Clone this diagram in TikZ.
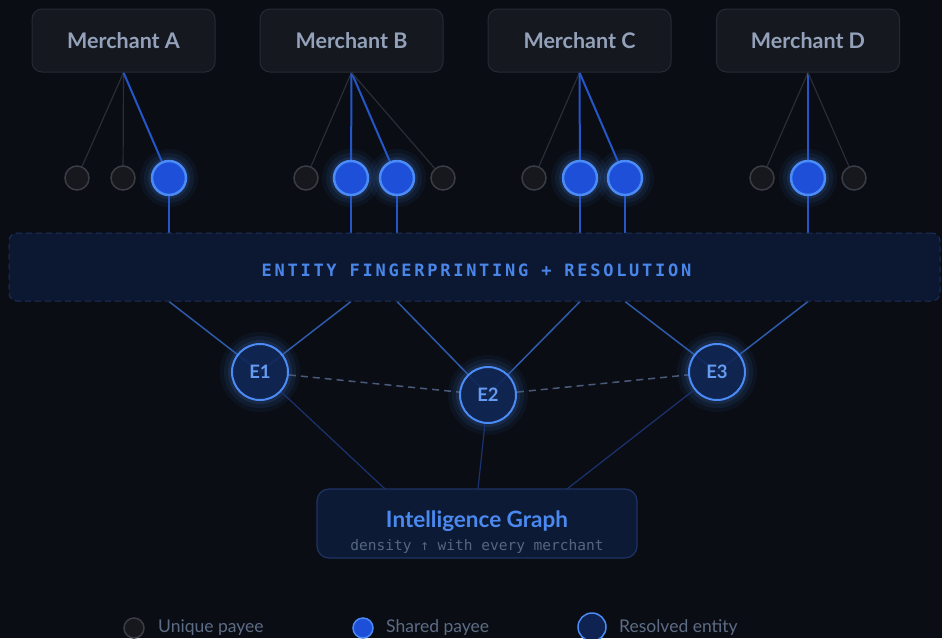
\documentclass[tikz,border=0pt]{standalone}
\usepackage{fontspec}
\setmainfont{Lato}
\newfontfamily\monof{DejaVu Sans Mono}
\newfontfamily\monospaced[LetterSpace=16]{DejaVu Sans Mono}
\usetikzlibrary{calc}
\pgfdeclarelayer{bg}
\pgfdeclarelayer{back}
\pgfsetlayers{back,bg,main}
\definecolor{bgc}{HTML}{0A0D14}
\definecolor{mfill}{HTML}{15181F}
\definecolor{mborder}{HTML}{272A33}
\definecolor{mtext}{HTML}{93A2BA}
\definecolor{ufill}{HTML}{16181E}
\definecolor{uborder}{HTML}{3A3D45}
\definecolor{sfill}{HTML}{1D4FD8}
\definecolor{sborder}{HTML}{4B8BF5}
\definecolor{sline}{HTML}{2456C8}
\definecolor{gline}{HTML}{2A2D35}
\definecolor{bandfill}{HTML}{0C1731}
\definecolor{bandborder}{HTML}{1D3059}
\definecolor{bandtext}{HTML}{4A86E8}
\definecolor{efill}{HTML}{0F2352}
\definecolor{eline}{HTML}{2D5AAA}
\definecolor{edash}{HTML}{4A5A7A}
\definecolor{iline}{HTML}{1A3270}
\definecolor{ifill}{HTML}{0D1A36}
\definecolor{iborder}{HTML}{1E3464}
\definecolor{ititle}{HTML}{4A8AF0}
\definecolor{isub}{HTML}{56667E}
\definecolor{legtext}{HTML}{5D6C85}
\tikzset{
  merchant/.style={draw=mborder, fill=mfill, line width=1pt, rounded corners=10pt,
    minimum width=183pt, minimum height=63pt, inner sep=0pt,
    font=\fontsize{21.5}{24}\selectfont\bfseries, text=mtext},
  unique/.style={circle, draw=uborder, fill=ufill, line width=1.5pt, minimum size=24pt, inner sep=0pt},
  shared/.style={circle, draw=sborder, fill=sfill, line width=2.5pt, minimum size=34pt, inner sep=0pt},
  entity/.style={circle, draw=sborder, fill=efill, fill opacity=0.85, text opacity=1, line width=2pt,
    minimum size=56pt, inner sep=0pt, font=\fontsize{18.5}{20}\selectfont\bfseries, text=ititle!85!white},
  gray link/.style={draw=gline, line width=1.2pt},
  blue link/.style={draw=sline, line width=2pt},
  band link/.style={draw=eline, line width=1.5pt},
  graph link/.style={draw=iline, line width=1.2pt},
  dash link/.style={draw=edash, line width=1.5pt, dash pattern=on 7pt off 5pt},
  legtxt/.style={anchor=west, inner sep=0pt, text=legtext, font=\fontsize{17.5}{19}\selectfont},
}
\newcommand{\glowat}[2]{%
  \begin{pgfonlayer}{back}
    \fill[sborder, opacity=0.06] (#1) circle (#2+12pt);
    \fill[sborder, opacity=0.08] (#1) circle (#2+8pt);
    \fill[sborder, opacity=0.12] (#1) circle (#2+4pt);
  \end{pgfonlayer}}
\begin{document}
\begin{tikzpicture}[x=1pt, y=-1pt]
\begin{pgfonlayer}{back}
\fill[bgc] (0,0) rectangle (942,638);
\end{pgfonlayer}
\useasboundingbox (0,0) rectangle (942,638);

% merchants
\node[merchant] (mA) at (123.5,40.5) {Merchant A};
\node[merchant] (mB) at (351.5,40.5) {Merchant B};
\node[merchant] (mC) at (579.5,40.5) {Merchant C};
\node[merchant] (mD) at (808,40.5) {Merchant D};

% band
\node[draw=bandborder, fill=bandfill, line width=1pt, dash pattern=on 6pt off 4pt,
  rounded corners=8pt, minimum width=931pt, minimum height=68pt, inner sep=0pt] (band) at (474.5,267) {};
\node[text=bandtext, font=\monospaced\fontsize{17}{19}\selectfont\bfseries] (bandlabel) at (476.5,270) {ENTITY FINGERPRINTING + RESOLUTION};

% payees
\node[unique] (a1) at (77,178) {};
\node[unique] (a2) at (123,178) {};
\node[shared] (a3) at (169,178) {};
\node[unique] (b1) at (306,178) {};
\node[shared] (b2) at (351,178) {};
\node[shared] (b3) at (397,178) {};
\node[unique] (b4) at (443,178) {};
\node[unique] (c1) at (534,178) {};
\node[shared] (c2) at (580,178) {};
\node[shared] (c3) at (625,178) {};
\node[unique] (d1) at (762,178) {};
\node[shared] (d2) at (808,178) {};
\node[unique] (d3) at (854,178) {};
\foreach \p in {a3,b2,b3,c2,c3,d2} {\glowat{\p}{17pt}}

% entities
\node[entity] (e1) at (260,372) {E1};
\node[entity] (e2) at (488,395) {E2};
\node[entity] (e3) at (717,372) {E3};
\foreach \p in {e1,e2,e3} {\glowat{\p}{28pt}}

% intelligence graph
\node[draw=iborder, fill=ifill, line width=1.2pt, rounded corners=12pt,
  minimum width=320pt, minimum height=69pt, inner sep=0pt] (ig) at (477,523.5) {};
\node[text=ititle, font=\fontsize{22.5}{25}\selectfont\bfseries] (igtitle) at (477,521) {Intelligence Graph};
\node[text=isub, font=\monof\fontsize{14.5}{16}\selectfont] (igsub) at (477,546.5) {density ↑ with every merchant};

% coordinates on the band and graph box
\foreach \p in {a3,b2,b3,c2,c3,d2} {
  \coordinate (\p top) at (\p |- band.north);
  \coordinate (\p bot) at (\p |- band.south);
}
\coordinate (g1) at (385,489);
\coordinate (g2) at (478,489);
\coordinate (g3) at (567,489);

\begin{pgfonlayer}{bg}
% merchant to payee
\draw[gray link] (mA.south) -- (a1);
\draw[gray link] (mA.south) -- (a2);
\draw[blue link] (mA.south) -- (a3);
\draw[gray link] (mB.south) -- (b1);
\draw[blue link] (mB.south) -- (b2);
\draw[blue link] (mB.south) -- (b3);
\draw[gray link] (mB.south) -- (b4);
\draw[gray link] (mC.south) -- (c1);
\draw[blue link] (mC.south) -- (c2);
\draw[blue link] (mC.south) -- (c3);
\draw[gray link] (mD.south) -- (d1);
\draw[blue link] (mD.south) -- (d2);
\draw[gray link] (mD.south) -- (d3);
% shared payees into band
\foreach \p in {a3,b2,b3,c2,c3,d2} {\draw[blue link] (\p) -- (\p top);}
% band to entities
\draw[band link] (a3bot) -- (e1.center);
\draw[band link] (b2bot) -- (e1.center);
\draw[band link] (b3bot) -- (e2.center);
\draw[band link] (c2bot) -- (e2.center);
\draw[band link] (c3bot) -- (e3.center);
\draw[band link] (d2bot) -- (e3.center);
% entity links
\draw[dash link] (e1) -- (e2);
\draw[dash link] (e2) -- (e3);
% entities to graph
\draw[graph link] (e1) -- (g1);
\draw[graph link] (e2) -- (g2);
\draw[graph link] (e3) -- (g3);
\end{pgfonlayer}

% legend
\node[unique, minimum size=20pt] (lu) at (134,628) {};
\node[legtxt] (lut) at (158,628) {Unique payee};
\node[shared, minimum size=20pt, line width=1.5pt] (ls) at (363,628) {};
\node[legtxt] (lst) at (386,628) {Shared payee};
\node[entity, minimum size=28pt, fill opacity=1, line width=1.5pt] (le) at (592,627) {};
\node[legtxt] (let) at (619,628) {Resolved entity};
\end{tikzpicture}
\end{document}
